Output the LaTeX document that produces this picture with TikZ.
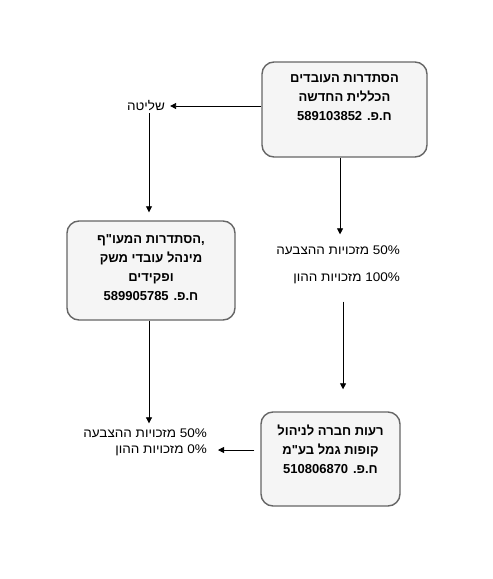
\documentclass[tikz,border=0pt]{standalone}
\usepackage{fontspec}
\usetikzlibrary{arrows.meta,positioning,calc}
\TeXXeTstate=1
\newfontfamily\hebfont[Script=Hebrew]{Liberation Sans}
\newfontfamily\hebwide[Script=Hebrew, FakeStretch=1.08]{Liberation Sans}
\def\heb#1{\beginR #1\endR}
\tikzset{
  company/.style={draw=black!60, line width=1.4pt, fill=black!4, rounded corners=12pt},
  company text/.style={align=center, inner sep=0pt,
        font=\hebfont\bfseries\fontsize{13}{19}\selectfont},
  share/.style={inner sep=2pt, font=\hebwide\fontsize{12.5}{14}\selectfont},
  link/.style={-{Triangle[length=6pt,width=6pt]}, line width=0.8pt}
}
\begin{document}
\begin{tikzpicture}[x=1pt,y=-1pt]
\fill[white] (0,0) rectangle (493,579);
\useasboundingbox (0,0) rectangle (493,579);
% companies
\node[company, minimum width=165pt, minimum height=95pt] (histadrut) at (344.5,109.5) {};
\node[company text, below=13pt of histadrut.north] (histadrut name)
  {\heb{הסתדרות העובדים}\\ \heb{הכללית החדשה}\\ \heb{ח.פ. 589103852}};
\node[company, minimum width=168pt, minimum height=99pt] (maof) at (151,270.5) {};
\node[company text, below=14pt of maof.north] (maof name)
  {\heb{\mbox{,}הסתדרות המעו"ף}\\ \heb{מינהל עובדי משק}\\ \heb{ופקידים}\\ \heb{ח.פ. 589905785}};
\node[company, minimum width=139pt, minimum height=94pt] (reut) at (330.5,459) {};
\node[company text, below=13pt of reut.north] (reut name)
  {\heb{רעות חברה לניהול}\\ \heb{קופות גמל בע"מ}\\ \heb{ח.פ. 510806870}};
% holdings
\node[share] (control) at (146,106) {\heb{שליטה}};
\node[share, anchor=east] (votes top) at (402,250) {\heb{50\% מזכויות ההצבעה}};
\node[share, anchor=east] (capital top) at (402,278) {\heb{100\% מזכויות ההון}};
\node[share, anchor=east] (votes low) at (209,433) {\heb{50\% מזכויות ההצבעה}};
\node[share, anchor=east] (capital low) at (209,450) {\heb{0\% מזכויות ההון}};
% arrows
\draw[link, shorten >=3pt] (control -| histadrut.west) -- (control.east);
\draw[link, shorten >=8pt, transform canvas={xshift=3pt}] (control.south) -- (control.south |- maof.north);
\draw[link, shorten >=9pt, transform canvas={xshift=2pt}] (histadrut.south -| votes top) -- (votes top.north);
\draw[link, shorten <=16pt, shorten >=22pt, transform canvas={xshift=5pt}] (votes top |- capital top.south) -- (votes top |- reut.north);
\draw[link, shorten >=3pt, transform canvas={xshift=-2pt}] (maof.south) -- (maof.south |- votes low.north);
\draw[link, shorten <=6pt, shorten >=9pt] (reut.west |- capital low) -- (capital low.east);
\end{tikzpicture}
\end{document}
